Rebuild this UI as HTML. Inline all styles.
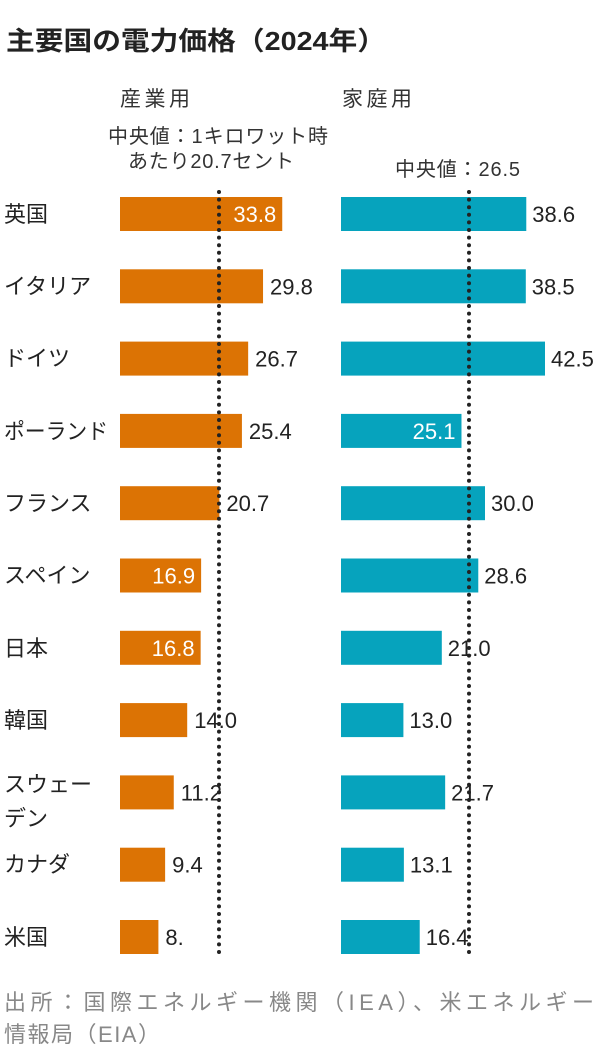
<!DOCTYPE html>
<html><head><meta charset="utf-8"><style>
html,body{margin:0;padding:0;background:#fff;}
svg{display:block;font-family:"Liberation Sans","Noto Sans CJK JP",sans-serif;}
</style></head><body>
<svg width="600" height="1056" viewBox="0 0 600 1056" xmlns="http://www.w3.org/2000/svg">
<text x="6" y="50" font-size="26" font-weight="bold" fill="#222" textLength="380" lengthAdjust="spacingAndGlyphs">主要国の電力価格（2024年）</text>
<text x="120" y="106" font-size="21" fill="#333" textLength="70">産業用</text>
<text x="342" y="106" font-size="21" fill="#333" textLength="70">家庭用</text>
<text x="108" y="143" font-size="20" fill="#333" textLength="220">中央値：1キロワット時</text>
<text x="128" y="168" font-size="20" fill="#333" textLength="166">あたり20.7セント</text>
<text x="395" y="176" font-size="20" fill="#333" textLength="125">中央値：26.5</text>
<g id="rows" font-size="22"></g>
<g font-size="22" fill="#222">
<text x="4" y="222">英国</text>
<text x="4" y="294">イタリア</text>
<text x="4" y="366">ドイツ</text>
<text x="4" y="439" textLength="104" lengthAdjust="spacingAndGlyphs">ポーランド</text>
<text x="4" y="511">フランス</text>
<text x="4" y="583">スペイン</text>
<text x="4" y="656">日本</text>
<text x="4" y="728">韓国</text>
<text x="4" y="792">スウェー</text>
<text x="4" y="826">デン</text>
<text x="4" y="872">カナダ</text>
<text x="4" y="945">米国</text>
</g>
<line x1="219" y1="192" x2="219" y2="956" stroke="#222" stroke-width="4" stroke-linecap="round" stroke-dasharray="0 7.6"/>
<line x1="469" y1="192" x2="469" y2="956" stroke="#222" stroke-width="4" stroke-linecap="round" stroke-dasharray="0 7.6"/>
<text x="4" y="1010" font-size="22" fill="#888" textLength="590">出所：国際エネルギー機関（IEA）、米エネルギー</text>
<text x="4" y="1042" font-size="22" fill="#888" textLength="156">情報局（EIA）</text>
<script>
var o=[33.8,29.8,26.7,25.4,20.7,16.9,16.8,14.0,11.2,9.4,8.0];
var b=[38.6,38.5,42.5,25.1,30.0,28.6,21.0,13.0,21.7,13.1,16.4];
var oi=[1,0,0,0,0,1,1,0,0,0,0], bi=[0,0,0,1,0,0,0,0,0,0,0];
var ns="http://www.w3.org/2000/svg",g=document.getElementById("rows"),k=4.8;
function el(t,a,txt){var e=document.createElementNS(ns,t);for(var x in a)e.setAttribute(x,a[x]);if(txt!=null)e.textContent=txt;g.appendChild(e);}
for(var i=0;i<11;i++){
 var y=197+i*72.3;
 var w=o[i]*k;
 el("rect",{x:120,y:y,width:w,height:34,fill:"#dc7304"});
 var s=(i==10)?"8.":o[i].toFixed(1);
 if(oi[i]) el("text",{x:120+w-6,y:y+25,"text-anchor":"end",fill:"#fff"},s);
 else el("text",{x:120+w+7,y:y+25,fill:"#222"},s);
 var w2=b[i]*k;
 el("rect",{x:341,y:y,width:w2,height:34,fill:"#06a3bd"});
 if(bi[i]) el("text",{x:341+w2-6,y:y+25,"text-anchor":"end",fill:"#fff"},b[i].toFixed(1));
 else el("text",{x:341+w2+6,y:y+25,fill:"#222"},b[i].toFixed(1));
}
</script>
</svg>
</body></html>
